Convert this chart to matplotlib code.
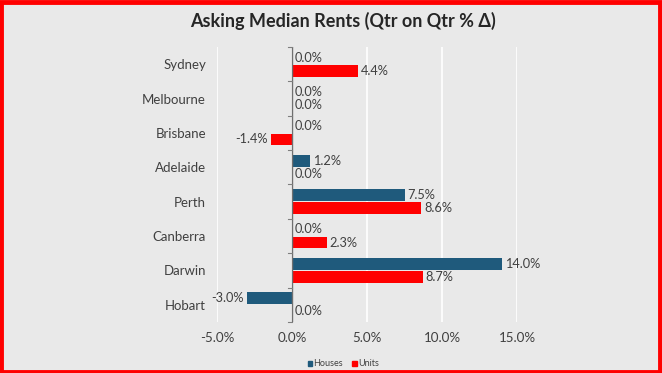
import matplotlib
matplotlib.use("Agg")
import matplotlib.pyplot as plt
from matplotlib.patches import Rectangle
import numpy as np

cities = ["Sydney", "Melbourne", "Brisbane", "Adelaide", "Perth", "Canberra", "Darwin", "Hobart"]
houses = [0.0, 0.0, 0.0, 1.2, 7.5, 0.0, 14.0, -3.0]
units = [4.4, 0.0, -1.4, 0.0, 8.6, 2.3, 8.7, 0.0]
xticks = [-5, 0, 5, 10, 15]
xticklabels = ["-5.0%", "0.0%", "5.0%", "10.0%", "15.0%"]
title = "Asking Median Rents (Qtr on Qtr % \u0394)"

plt.rcParams['font.family'] = ['Lato', 'DejaVu Sans']

BG = "#e9e9e9"
BLUE = "#1f5a7c"
RED = "#ff0000"
TXT = "#404040"

fig = plt.figure(figsize=(6.62, 3.73), dpi=100)
fig.patch.set_facecolor(BG)
fig.patches.append(Rectangle((0.002, 0.004), 0.995, 0.99, transform=fig.transFigure,
                             fill=False, edgecolor=RED, linewidth=3.5, zorder=10))

ax = fig.add_axes([0.328, 0.137, 0.453, 0.737])
ax.set_facecolor(BG)
y = np.arange(len(cities))
off = 0.19
h = 0.34
ax.barh(y - off, houses, height=h, color=BLUE, zorder=3)
ax.barh(y + off, units, height=h, color=RED, zorder=3)

for i in range(len(cities)):
    for v, yy in ((houses[i], y[i] - off), (units[i], y[i] + off)):
        if v < 0:
            ax.text(v - 0.2, yy, f"{v:.1f}%", ha="right", va="center", fontsize=9.2, color=TXT, zorder=4)
        else:
            ax.text(v + 0.2, yy, f"{v:.1f}%", ha="left", va="center", fontsize=9.2, color=TXT, zorder=4)

ax.set_xlim(-5, 15)
ax.set_ylim(len(cities) - 0.5, -0.5)
ax.set_xticks(xticks)
ax.set_xticklabels(xticklabels, fontsize=9.6, color=TXT)
ax.tick_params(axis="x", length=0, pad=7)
ax.grid(axis="x", color="white", linewidth=1.2, zorder=0)
ax.set_yticks(y)
ax.set_yticklabels(cities, fontsize=9.5, color=TXT)
ax.tick_params(axis="y", length=0, pad=8)
for s in ax.spines.values():
    s.set_visible(False)
ax.axvline(0, color="#6f6f6f", linewidth=1.0, zorder=5)
for b in np.arange(-0.5, len(cities) + 0.5, 1.0):
    ax.plot([-0.25, 0], [b, b], color="#7f7f7f", linewidth=0.8, zorder=5, clip_on=False)

fig.text(0.518, 0.945, title, ha="center", va="center", fontsize=13, fontweight="bold", color="#262626")

# legend
fig.patches.append(Rectangle((0.466, 0.020), 0.006, 0.011, transform=fig.transFigure, color=BLUE))
fig.text(0.473, 0.025, "Houses", fontsize=6.5, color=TXT, va="center", ha="left")
fig.patches.append(Rectangle((0.532, 0.019), 0.008, 0.014, transform=fig.transFigure, color=RED))
fig.text(0.541, 0.025, "Units", fontsize=6.5, color=TXT, va="center", ha="left")

fig.savefig("out.png", dpi=100, facecolor=BG)
